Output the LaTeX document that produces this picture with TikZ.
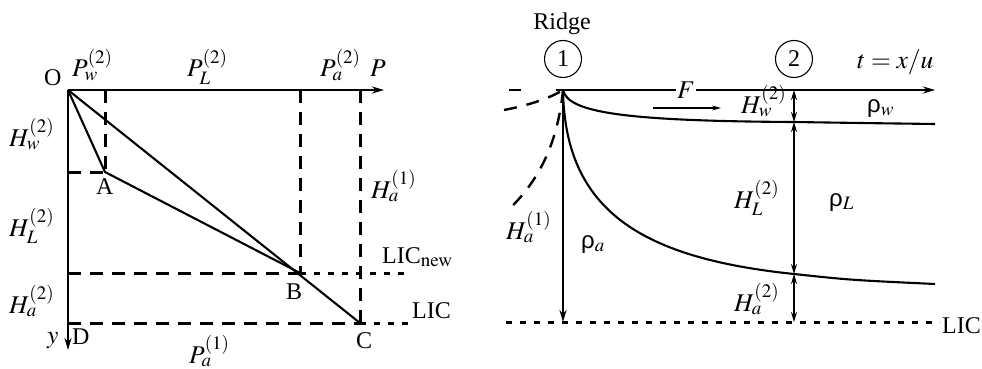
\documentclass[tikz,border=0pt]{standalone}
\usepackage{mathptmx}
\usepackage{fontspec}
\setmainfont{Liberation Serif}
\newfontfamily\grk{Liberation Sans}
\DeclareMathSizes{24}{25.5}{19}{15}
\usetikzlibrary{arrows.meta}
\newcommand{\rh}[1]{{\grk ρ}$_{#1}$}
\begin{document}
\begin{tikzpicture}[x=1pt,y=-1pt,
  every node/.style={inner sep=0pt,font=\fontsize{24}{28}\selectfont},
  solid line/.style={line width=2.1pt},
  thickdash/.style={line width=3pt,dash pattern=on 13pt off 9pt},
  finedash/.style={line width=3pt,dash pattern=on 6pt off 8pt},
  curvedash/.style={line width=2.4pt,dash pattern=on 13pt off 10pt},
  axis/.style={line width=2.1pt,-{Stealth[length=12pt,width=7pt]}},
  dbl/.style={line width=2.1pt,{Stealth[length=10pt,width=6pt]}-{Stealth[length=10pt,width=6pt]}},
  lbl/.style={anchor=base west},
  circ/.style={draw,circle,line width=1.1pt,minimum size=37pt}]
\useasboundingbox (0,0) rectangle (982,369);
% ---------------- left panel ----------------
\coordinate (O) at (68,90);
\coordinate (A) at (105,172);
\coordinate (B) at (300,273);
\coordinate (C) at (360,323);
\coordinate (Pend) at (384,90);
\coordinate (Yend) at (68,350);
\coordinate (Atop) at (105,90);
\coordinate (Btop) at (300,90);
\coordinate (Ctop) at (360,90);
\coordinate (Aleft) at (68,172);
\coordinate (Bleft) at (68,273);
\coordinate (Cleft) at (68,323);
\coordinate (Bright) at (408,273);
\coordinate (Cright) at (410,323);
\draw[thickdash] (Atop) -- (A);
\draw[thickdash] (Aleft) -- (A);
\draw[thickdash] (Btop) -- (B);
\draw[thickdash] (Ctop) -- (C);
\draw[thickdash] (Bleft) -- (B);
\draw[finedash] (B) -- (Bright);
\draw[thickdash] (Cleft) -- (C);
\draw[finedash] (C) -- (Cright);
\draw[axis] (O) -- (Pend);
\draw[axis] (O) -- (Yend);
\draw[solid line,line join=round] (O) -- (A) -- (B);
\draw[solid line] (O) -- (C);
\node[lbl] (lO) at (44,85) {O};
\node[lbl] (lA) at (96,194) {A};
\node[lbl] (lB) at (286,299) {B};
\node[lbl] (lC) at (356,348) {C};
\node[lbl] (lD) at (72,344) {D};
\node[lbl] (ly) at (47,343) {$y$};
\node[lbl] (lPw) at (72,77) {$P^{(2)}_{w}$};
\node[lbl] (lPL) at (187,77) {$P^{(2)}_{L}$};
\node[lbl] (lPa) at (320,77) {$P^{(2)}_{a}$};
\node[lbl] (lP) at (370,76) {$P$};
\node[lbl] (lHw) at (9,146) {$H^{(2)}_{w}$};
\node[lbl] (lHL) at (9,236) {$H^{(2)}_{L}$};
\node[lbl] (lHa) at (9,313) {$H^{(2)}_{a}$};
\node[lbl] (lHa1) at (371,198) {$H^{(1)}_{a}$};
\node[lbl] (lPa1) at (189,363) {$P^{(1)}_{a}$};
\node[lbl] (lLICn) at (382,263) {LIC$_{\mathrm{new}}$};
\node[lbl] (lLIC) at (412,318) {LIC};
% ---------------- right panel ----------------
\coordinate (R) at (563,90);
\coordinate (Rstart) at (556,90);
\coordinate (Tend) at (935,90);
\coordinate (Rbot) at (563,322);
\coordinate (Lic1) at (506,322);
\coordinate (Lic2) at (940,322);
\coordinate (d1) at (509,90);
\coordinate (d2) at (521,90);
\coordinate (w1) at (794,90);
\coordinate (w2) at (794,122);
\coordinate (w3) at (794,274);
\coordinate (w4) at (794,322);
\coordinate (Fa) at (653,108);
\coordinate (Fb) at (721,108);
\node (ridge) at (562,24) {Ridge};
\node[circ] (c1) at (563,59) {1};
\node[circ] (c2) at (794,59) {2};
\draw[finedash] (Lic1) -- (Lic2);
\draw[line width=2.4pt] (d1) -- (d2);
\draw[curvedash] (504,110) .. controls (530,105) and (550,98) .. (R);
\draw[curvedash] (R) .. controls (558,140) and (541,180) .. (506,212);
\draw[solid line] (R) .. controls (568,112) and (620,121) .. (w2) .. controls (860,123) .. (935,124);
\draw[solid line] (R) .. controls (565,210) and (640,258) .. (w3) .. controls (850,280) .. (935,284);
\draw[axis] (Rstart) -- (Tend);
\draw[axis] (R) -- (Rbot);
\draw[dbl] (w1) -- (w2);
\draw[dbl] (w2) -- (w3);
\draw[dbl] (w3) -- (w4);
\node[lbl,fill=white,inner sep=1pt] (lF) at (676,99) {$F$};
\draw[line width=1.2pt,-{Stealth[length=9pt,width=5pt]}] (Fa) -- (Fb);
\node[lbl] (lt) at (857,68) {$t=x/u$};
\node[lbl] (lHw2) at (741,113) {$H^{(2)}_{w}$};
\node[lbl] (lHL2) at (734,208) {$H^{(2)}_{L}$};
\node[lbl] (lHa2) at (734,311) {$H^{(2)}_{a}$};
\node[lbl] (lHa1r) at (506,239) {$H^{(1)}_{a}$};
\node[lbl] (lrw) at (867,112) {\rh{w}};
\node[lbl] (lrL) at (829,206) {\rh{L}};
\node[lbl] (lra) at (581,248) {\rh{a}};
\node[lbl] (lLICr) at (942,333) {LIC};
\end{tikzpicture}
\end{document}
